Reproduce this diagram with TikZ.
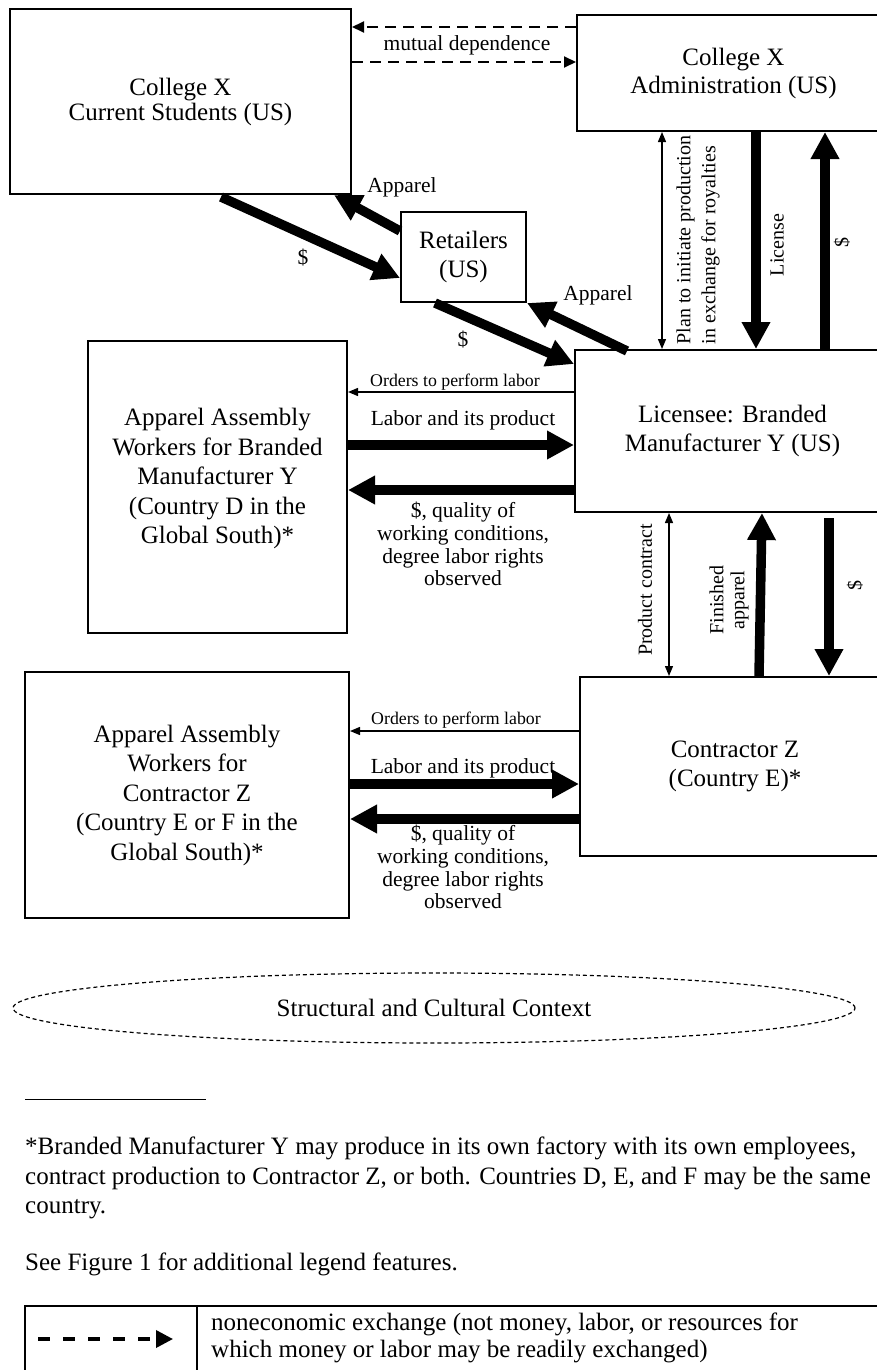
\documentclass[tikz,border=0pt]{standalone}
\usepackage{fontspec}
\setmainfont{Liberation Serif}
\usetikzlibrary{arrows.meta,shapes.geometric,calc}
\begin{document}
\begin{tikzpicture}[x=1pt,y=-1pt,
  box/.style={draw, line width=2pt, rectangle, align=center, inner sep=0pt, font=\fontsize{25}{29.5}\selectfont},
  big/.style={line width=9.5pt, -{Triangle[length=27pt,width=27pt]}},
  thinarr/.style={line width=1.3pt, -{Triangle[length=10pt,width=8pt]}},
  botharr/.style={line width=1.3pt, {Triangle[length=10pt,width=8pt]}-{Triangle[length=10pt,width=8pt]}},
  dsh/.style={line width=2pt, dash pattern=on 11pt off 7pt, -{Triangle[length=12pt,width=11pt]}},
  lbl/.style={font=\fontsize{21.5}{22.7}\selectfont, align=center, inner sep=0pt},
  smalllbl/.style={font=\fontsize{17.8}{20}\selectfont, inner sep=0pt},
  rot/.style={rotate=90, font=\fontsize{20}{25}\selectfont, inner sep=0pt},
  txt/.style={font=\fontsize{25}{29.5}\selectfont, inner sep=0pt, align=left}]

\useasboundingbox (0,0) rectangle (877,1370);
\clip (0,0) rectangle (877,1370);

% boxes
\node[box, minimum width=341pt, minimum height=185pt, font=\fontsize{25}{25}\selectfont] (cs) at (180.5,101.5) {College X\\Current Students (US)};
\node[box, minimum width=313pt, minimum height=116pt, font=\fontsize{25}{28}\selectfont] (adm) at (733.5,73) {College X\\Administration (US)};
\node[box, minimum width=125pt, minimum height=90pt] (ret) at (463.5,257) {Retailers\\(US)};
\node[box, minimum width=315pt, minimum height=162pt] (lic) at (732.5,431) {Licensee: Branded\\Manufacturer Y (US)};
\node[box, minimum width=259pt, minimum height=292pt, text depth=22pt] (wy) at (217.5,487) {Apparel Assembly\\Workers for Branded\\Manufacturer Y\\(Country D in the\\Global South)*};
\node[box, minimum width=310pt, minimum height=179pt] (cz) at (735,766.5) {Contractor Z\\(Country E)*};
\node[box, minimum width=324pt, minimum height=246pt] (wz) at (187,795) {Apparel Assembly\\Workers for\\Contractor Z\\(Country E or F in the\\Global South)*};

% mutual dependence
\draw[dsh] (adm.west |- 0,27) -- (cs.east |- 0,27);
\draw[dsh] (cs.east |- 0,62) -- (adm.west |- 0,62);
\node[lbl] at (467,45) {mutual dependence};

% retail flows
\draw[big] ([xshift=212pt,yshift=-2pt]cs.south west) -- ([yshift=25pt]ret.south west);
\node[lbl] at (303,258) {\$};
\draw[big] ([yshift=-20pt]ret.north west) -- ([xshift=-18pt]cs.south east);
\node[lbl] at (402,187) {Apparel};
\draw[big] ([xshift=35pt]ret.south west) -- ([yshift=-15pt]lic.north west);
\node[lbl] at (463,340) {\$};
\draw[big] ([xshift=53pt,yshift=-2pt]lic.north west) -- (ret.south east);
\node[lbl] at (598,295) {Apparel};

% administration <-> licensee
\draw[botharr] ([xshift=86pt]adm.south west) -- ([xshift=88pt]lic.north west);
\draw[big] ([xshift=180pt]adm.south west) -- ([xshift=182pt]lic.north west);
\draw[big] ([xshift=251pt]lic.north west) -- ([xshift=249pt]adm.south west);
\node[rot, align=left] at (698,240) {Plan to initiate production\\in exchange for royalties};
\node[rot] at (777,245) {License};
\node[rot] at (842,242) {\$};

% workers Y <-> licensee
\draw[thinarr] (lic.west |- 0,392) -- (wy.east |- 0,392);
\node[smalllbl] at (455,382) {Orders to perform labor};
\draw[big] (wy.east |- 0,445) -- (lic.west |- 0,445);
\node[lbl] at (463,420) {Labor and its product};
\draw[big] (lic.west |- 0,490) -- (wy.east |- 0,490);
\node[lbl] at (463,544) {\$, quality of\\working conditions,\\degree labor rights\\observed};

% licensee <-> contractor
\draw[botharr] ([xshift=95pt]lic.south west) -- ([xshift=90pt]cz.north west);
\draw[big] ([xshift=180pt]cz.north west) -- ([xshift=188pt]lic.south west);
\draw[big] ([xshift=255pt,yshift=-5pt]lic.south west) -- ([xshift=250pt]cz.north west);
\node[rot] at (645,590) {Product contract};
\node[rot, align=center, font=\fontsize{20}{21}\selectfont] at (729,600) {Finished\\apparel};
\node[rot] at (855,585) {\$};

% workers Z <-> contractor
\draw[thinarr] (cz.west |- 0,731) -- (wz.east |- 0,731);
\node[smalllbl] at (456,720) {Orders to perform labor};
\draw[big] (wz.east |- 0,784) -- (cz.west |- 0,784);
\node[lbl] at (463,768) {Labor and its product};
\draw[big] (cz.west |- 0,819) -- (wz.east |- 0,819);
\node[lbl] at (463,867) {\$, quality of\\working conditions,\\degree labor rights\\observed};

% context
\node[ellipse, draw, line width=1.2pt, dash pattern=on 4pt off 3pt, minimum width=842pt, minimum height=70pt, inner sep=0pt, font=\fontsize{25}{29.5}\selectfont] (ctx) at (434,1008) {Structural and Cultural Context};

% footnote
\draw[line width=1pt] (25,1099) -- (206,1099);
\node[txt, anchor=west] (fn) at (25,1178) {*Branded Manufacturer Y may produce in its own factory with its own employees,\\contract production to Contractor Z, or both. Countries D, E, and F may be the same\\country.};
\node[txt, anchor=west] (see) at (25,1264) {See Figure 1 for additional legend features.};

% legend
\draw[line width=1.5pt] (25,1306) rectangle (895,1400);
\draw[line width=1.5pt] (197,1306) -- (197,1400);
\coordinate (lga) at (38,1339);
\coordinate (lgb) at (173,1339);
\draw[line width=3.5pt, dash pattern=on 12pt off 13pt, -{Triangle[length=17pt,width=17pt]}] (lga) -- (lgb);
\node[txt, anchor=west, font=\fontsize{25}{27}\selectfont] (lgt) at (211,1338) {noneconomic exchange (not money, labor, or resources for\\which money or labor may be readily exchanged)};
\end{tikzpicture}
\end{document}
